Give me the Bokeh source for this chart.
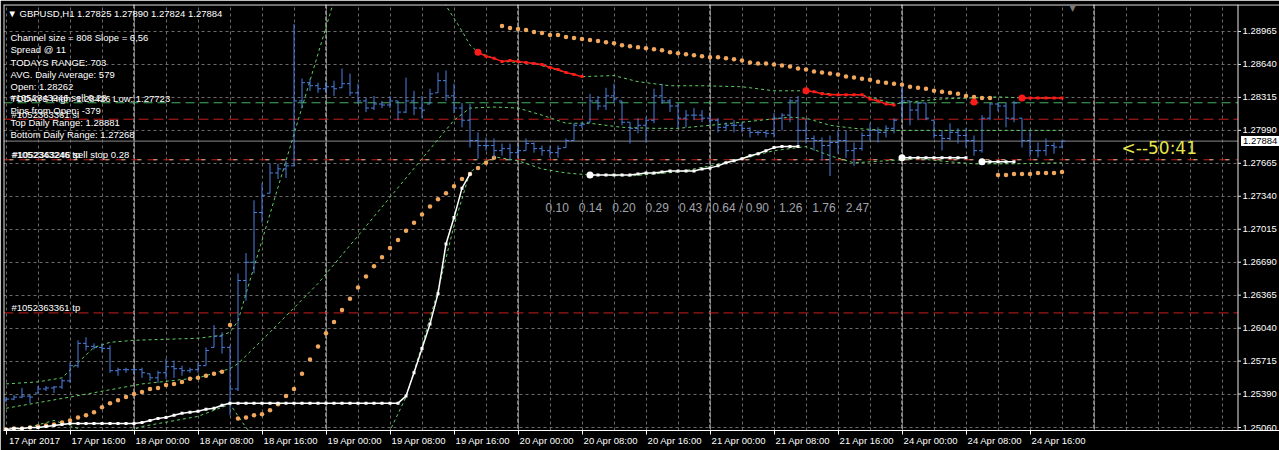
import numpy as np
from bokeh.plotting import figure
from bokeh.models import (Range1d, FixedTicker, CustomJSTickFormatter, Span, Label,
                          BoxAnnotation, ColumnDataSource)
from bokeh.embed import file_html
from bokeh.resources import INLINE

# ---------------- data ----------------
title_text = "\u25bc GBPUSD,H1  1.27825 1.27890 1.27824 1.27884"

time_labels = ["17 Apr 2017", "17 Apr 16:00", "18 Apr 00:00", "18 Apr 08:00", "18 Apr 16:00",
               "19 Apr 00:00", "19 Apr 08:00", "19 Apr 16:00", "20 Apr 00:00", "20 Apr 08:00",
               "20 Apr 16:00", "21 Apr 00:00", "21 Apr 08:00", "21 Apr 16:00", "24 Apr 00:00",
               "24 Apr 08:00", "24 Apr 16:00"]
label_bars = [0, 8, 16, 24, 32, 40, 48, 56, 64, 72, 80, 88, 96, 104, 112, 120, 128]
day_start_bars = [16, 40, 64, 88, 112, 136]

price_ticks = [1.25060, 1.25390, 1.25715, 1.26040, 1.26365, 1.26690, 1.27015,
               1.27340, 1.27665, 1.27990, 1.28315, 1.28640, 1.28965]

bar_open = [1.2533, 1.2534, 1.2536, 1.2537, 1.2540, 1.2544, 1.2545, 1.2546, 1.2552, 1.2567,
            1.2589, 1.2586, 1.2585, 1.2584, 1.2562, 1.2563, 1.2563, 1.2563, 1.2559, 1.2555,
            1.2560, 1.2566, 1.2564, 1.2562, 1.2563, 1.2567, 1.2585, 1.2596, 1.2585, 1.2544,
            1.2651, 1.2669, 1.2718, 1.2737, 1.2757, 1.2761, 1.2764, 1.2828, 1.2846, 1.2843,
            1.2840, 1.2842, 1.2841, 1.2845, 1.2836, 1.2828, 1.2821, 1.2825, 1.2824, 1.2828,
            1.2817, 1.2828, 1.2821, 1.2825, 1.2836, 1.2848, 1.2833, 1.2821, 1.2809, 1.2789,
            1.2784, 1.2784, 1.2779, 1.2781, 1.2777, 1.2779, 1.2786, 1.2781, 1.2779, 1.2777,
            1.2782, 1.2789, 1.2804, 1.2807, 1.2828, 1.2823, 1.2833, 1.2828, 1.2807, 1.2801,
            1.2804, 1.2809, 1.2833, 1.2828, 1.2823, 1.2811, 1.2814, 1.2814, 1.2811, 1.2809,
            1.2802, 1.2804, 1.2804, 1.2801, 1.2797, 1.2797, 1.2796, 1.2811, 1.2814, 1.2828,
            1.2799, 1.2791, 1.2789, 1.2784, 1.2787, 1.2789, 1.2779, 1.2781, 1.2794, 1.2799,
            1.2797, 1.2801, 1.28262, 1.2828, 1.2819, 1.2826, 1.2809, 1.2794, 1.2791, 1.2797,
            1.2794, 1.2789, 1.2779, 1.2811, 1.2825, 1.2823, 1.2811, 1.2811, 1.2789, 1.2779,
            1.2779, 1.2784, 1.27825]
bar_high = [1.2536, 1.2538, 1.2545, 1.2538, 1.2547, 1.2547, 1.2547, 1.2554, 1.2570, 1.2592,
            1.2595, 1.2589, 1.2589, 1.2587, 1.2565, 1.2565, 1.2565, 1.2565, 1.2559, 1.2562,
            1.2574, 1.2572, 1.2567, 1.2565, 1.2570, 1.2585, 1.2607, 1.2600, 1.2587, 1.2658,
            1.2678, 1.2730, 1.2747, 1.2766, 1.2766, 1.2769, 1.2904, 1.2850, 1.2850, 1.2846,
            1.2846, 1.2848, 1.2860, 1.2855, 1.2845, 1.2831, 1.2833, 1.2828, 1.2833, 1.2828,
            1.2851, 1.2838, 1.2833, 1.2840, 1.2856, 1.2858, 1.2845, 1.2826, 1.2825, 1.2797,
            1.2792, 1.2791, 1.2786, 1.2786, 1.2784, 1.2791, 1.2787, 1.2784, 1.2784, 1.2784,
            1.2791, 1.2806, 1.2807, 1.2835, 1.2833, 1.2841, 1.2845, 1.2828, 1.2807, 1.2811,
            1.2812, 1.2840, 1.2845, 1.2830, 1.2826, 1.2819, 1.2821, 1.2819, 1.2814, 1.2811,
            1.2807, 1.2809, 1.2807, 1.2802, 1.2799, 1.2799, 1.2816, 1.2816, 1.2830, 1.2833,
            1.2811, 1.2794, 1.2792, 1.2794, 1.2799, 1.2799, 1.2787, 1.2797, 1.2806, 1.2802,
            1.2804, 1.2811, 1.28426, 1.2828, 1.2826, 1.2826, 1.2809, 1.2799, 1.2806, 1.2801,
            1.2801, 1.2794, 1.2814, 1.2826, 1.2826, 1.2826, 1.2828, 1.2811, 1.2799, 1.2787,
            1.2791, 1.2787, 1.27890]
bar_low = [1.2531, 1.2533, 1.2535, 1.2530, 1.2540, 1.2542, 1.2540, 1.2544, 1.2550, 1.2565,
           1.2582, 1.2583, 1.2580, 1.2560, 1.2557, 1.2560, 1.2559, 1.2555, 1.2552, 1.2550,
           1.2554, 1.2555, 1.2557, 1.2560, 1.2560, 1.2567, 1.2585, 1.2579, 1.2518, 1.2542,
           1.2631, 1.2658, 1.2708, 1.2737, 1.2751, 1.2752, 1.2764, 1.2821, 1.2838, 1.2836,
           1.2836, 1.2833, 1.2841, 1.2833, 1.2825, 1.2817, 1.2819, 1.2821, 1.2821, 1.2809,
           1.2816, 1.2814, 1.2811, 1.2825, 1.2836, 1.2828, 1.2816, 1.2802, 1.2782, 1.2771,
           1.2779, 1.2772, 1.2774, 1.2769, 1.2772, 1.2779, 1.2777, 1.2774, 1.2772, 1.2772,
           1.2782, 1.2789, 1.2801, 1.2807, 1.2819, 1.2819, 1.2826, 1.2804, 1.2786, 1.2796,
           1.2787, 1.2806, 1.2825, 1.2817, 1.2801, 1.2802, 1.2809, 1.2807, 1.2804, 1.2797,
           1.2799, 1.2797, 1.2797, 1.2792, 1.2794, 1.2792, 1.2792, 1.2799, 1.2807, 1.2782,
           1.2786, 1.2779, 1.2769, 1.2754, 1.2776, 1.2772, 1.2764, 1.2779, 1.2789, 1.2787,
           1.2792, 1.2796, 1.2811, 1.2804, 1.2809, 1.2809, 1.2791, 1.2779, 1.2789, 1.2786,
           1.2782, 1.2774, 1.2777, 1.2809, 1.2818, 1.2802, 1.2807, 1.2782, 1.2773, 1.27723,
           1.2774, 1.2776, 1.27824]
bar_close = [1.2534, 1.2536, 1.2537, 1.2536, 1.2544, 1.2545, 1.2546, 1.2552, 1.2567, 1.2589,
             1.2586, 1.2585, 1.2584, 1.2562, 1.2563, 1.2563, 1.2563, 1.2560, 1.2555, 1.2560,
             1.2566, 1.2564, 1.2562, 1.2563, 1.2567, 1.2582, 1.2596, 1.2585, 1.2544, 1.2651,
             1.2669, 1.2718, 1.2735, 1.2757, 1.2761, 1.2764, 1.2828, 1.2846, 1.2843, 1.2840,
             1.2842, 1.2840, 1.2845, 1.2836, 1.2828, 1.2821, 1.2825, 1.2824, 1.2828, 1.2817,
             1.2828, 1.2821, 1.2819, 1.2835, 1.2848, 1.2833, 1.2821, 1.2809, 1.2789, 1.2784,
             1.2784, 1.2779, 1.2781, 1.2777, 1.2779, 1.2786, 1.2781, 1.2779, 1.2777, 1.2781,
             1.2789, 1.2804, 1.2805, 1.2828, 1.2823, 1.2833, 1.2830, 1.2807, 1.2801, 1.2804,
             1.2809, 1.2833, 1.2828, 1.2823, 1.2811, 1.2814, 1.2814, 1.2811, 1.2809, 1.2802,
             1.2804, 1.2804, 1.2801, 1.2797, 1.2797, 1.2796, 1.2811, 1.2814, 1.2828, 1.2799,
             1.2791, 1.2789, 1.2784, 1.2787, 1.2789, 1.2779, 1.2781, 1.2794, 1.2799, 1.2797,
             1.2801, 1.2809, 1.2828, 1.2819, 1.2826, 1.2811, 1.2794, 1.2791, 1.2797, 1.2794,
             1.2789, 1.2779, 1.2811, 1.2825, 1.2823, 1.2811, 1.2826, 1.2789, 1.2779, 1.2779,
             1.2784, 1.27825, 1.27884]

# trailing stop line (white = support, red = resistance), one value per bar
white_stop = [1.2504, 1.2505, 1.2505, 1.2506, 1.2506, 1.2507, 1.2508, 1.2509, 1.2510, 1.2510,
              1.2510, 1.2510, 1.2510, 1.2510, 1.2510, 1.2510, 1.2510, 1.2511, 1.2513, 1.2515,
              1.2516, 1.2518, 1.2520, 1.2521, 1.2522, 1.2524, 1.2525, 1.2528, 1.2530, 1.2530,
              1.2530, 1.2530, 1.2530, 1.2530, 1.2530, 1.2530, 1.2530, 1.2530, 1.2530, 1.2530,
              1.2530, 1.2530, 1.2530, 1.2530, 1.2530, 1.2530, 1.2530, 1.2530, 1.2530, 1.2530,
              1.2537, 1.2560, 1.2584, 1.2608, 1.2638, 1.2687, 1.2713, 1.2742, 1.2756,
              None, None, None, None, None, None, None, None, None, None, None, None, None, None,
              1.2755, 1.2755, 1.2755, 1.2755, 1.2755, 1.2755, 1.2756, 1.2757, 1.2757, 1.2758,
              1.2759, 1.2759, 1.2759, 1.2759, 1.2761, 1.2762, 1.2764, 1.2767, 1.2769, 1.2771,
              1.2774, 1.2776, 1.2779, 1.2782, 1.2783, 1.2783, 1.2783,
              None, None, None, None, None, None, None, None, None, None, None, None,
              1.2772, 1.2772, 1.2772, 1.2772, 1.2772, 1.2772, 1.2772, 1.2772, 1.2772,
              None,
              1.2768, 1.2768, 1.2768, 1.2768, 1.2768,
              None, None, None, None, None, None]
red_stop = ([None] * 59 +
            [1.2876, 1.2872, 1.2870, 1.2867, 1.2868, 1.2867, 1.2866, 1.2865, 1.2864, 1.2861,
             1.2859, 1.2856, 1.2854, 1.2852] +
            [None] * 27 +
            [1.2838, 1.2837, 1.2835, 1.2834, 1.2834, 1.2834, 1.2834, 1.2834, 1.2830, 1.2828,
             1.2825, 1.2824] +
            [None] * 9 + [1.2827] + [None] * 5 +
            [1.2831, 1.2831, 1.2831, 1.2831, 1.2831, 1.2831])
white_start_bars = [73, 112, 122]
red_start_bars = [59, 100, 121, 127]

# parabolic SAR dots
sar = [1.2504, 1.2505, 1.2505, 1.2506, 1.2507, 1.2508, 1.2509, 1.2511, 1.2513, 1.2516,
       1.2518, 1.2521, 1.2526, 1.2530, 1.2533, 1.2536, 1.2539, 1.2541, 1.2544, 1.2545,
       1.2548, 1.2549, 1.2551, 1.2554, 1.2555, 1.2557, 1.2559, 1.2561, 1.2607, 1.2515,
       1.2516, 1.2518, 1.2519, 1.2523, 1.2529, 1.2537, 1.2544, 1.2559, 1.2573, 1.2586,
       1.2599, 1.2610, 1.2622, 1.2633, 1.2644, 1.2655, 1.2665, 1.2674, 1.2683, 1.2691,
       1.2700, 1.2708, 1.2716, 1.2724, 1.2731, 1.2737, 1.2744, 1.2751, 1.2756, 1.2762,
       1.2767, 1.2772, 1.2902, 1.2900, 1.2899, 1.2898, 1.2896, 1.2895, 1.2893, 1.2893,
       1.2891, 1.2890, 1.2889, 1.2888, 1.2887, 1.2886, 1.2885, 1.2883, 1.2882, 1.2881,
       1.2880, 1.2879, 1.2878, 1.2876, 1.2875, 1.2874, 1.2873, 1.2872, 1.2871, 1.2871,
       1.2870, 1.2869, 1.2868, 1.2866, 1.2865, 1.2865, 1.2864, 1.2863, 1.2862, 1.2860,
       1.2859, 1.2857, 1.2856, 1.2855, 1.2854, 1.2852, 1.2851, 1.2850, 1.2849, 1.2847,
       1.2846, 1.2845, 1.2844, 1.2842, 1.2841, 1.2840, 1.2838, 1.2837, 1.2836, 1.2835,
       1.2833, 1.2832, 1.2831, 1.2831, 1.2755, 1.2755, 1.2756, 1.2756, 1.2756, 1.2757,
       1.2757, 1.2757, 1.2758]

# bands (read at sampled bars)
band_up_bars = [0, 4, 7, 9, 11, 13, 16, 20, 24, 27, 28, 29, 30, 35, 41, 48, 55, 57, 58, 59,
                62, 66, 70, 72, 76, 79, 83, 87, 92, 96, 100, 104, 107, 111, 113, 117, 121,
                124, 127, 132]
band_up = [1.2549, 1.2551, 1.2555, 1.2570, 1.2585, 1.2590, 1.2592, 1.2593, 1.2594, 1.2597,
           1.2600, 1.2611, 1.2638, 1.2769, 1.2927, 1.3080, 1.2922, 1.2897, 1.2883, 1.2876,
           1.2867, 1.2865, 1.2856, 1.2852, 1.2853, 1.2847, 1.2843, 1.2843, 1.2842, 1.2838,
           1.2838, 1.2834, 1.2834, 1.2825, 1.2827, 1.2830, 1.2831, 1.2832, 1.2831, 1.2831]
band_mid_bars = [0, 8, 17, 24, 28, 29, 33, 39, 44, 50, 54, 56, 58, 61, 64, 67, 70, 73, 77,
                 81, 84, 88, 92, 98, 100, 103, 106, 110, 117, 124, 132]
band_mid = [1.2525, 1.2536, 1.2549, 1.2555, 1.2564, 1.2569, 1.2600, 1.2648, 1.2695, 1.2752,
            1.2790, 1.2809, 1.2821, 1.2822, 1.2821, 1.2814, 1.2806, 1.2806, 1.2802, 1.2801,
            1.2801, 1.2804, 1.2807, 1.2812, 1.2811, 1.2804, 1.2801, 1.2799, 1.2799, 1.2799,
            1.2799]
band_low_bars = [0, 6, 9, 12, 17, 24, 28, 30, 32, 40, 46, 48, 50, 52, 54, 56, 58, 61, 64, 67,
                 70, 73, 78, 84, 88, 92, 96, 100, 103, 106, 110, 114, 118, 121, 126, 132]
band_low = [1.2500, 1.2513, 1.2505, 1.2493, 1.2507, 1.2517, 1.2529, 1.2506, 1.2488, 1.2463,
            1.2483, 1.2503, 1.2536, 1.2587, 1.2641, 1.2705, 1.2758, 1.2773, 1.2769, 1.2761,
            1.2757, 1.2755, 1.2754, 1.2758, 1.2764, 1.2771, 1.2779, 1.2783, 1.2774, 1.2767,
            1.2769, 1.2771, 1.2768, 1.2766, 1.2766, 1.2767]

# trade levels
position_level = 1.28262
sl_level = 1.2810
sellstop_level = 1.2770
tp_level = 1.2619
bid_price = 1.27884

info_lines = ["Channel size = 808 Slope = 6,56", "Spread @ 11", "TODAYS RANGE: 703",
              "AVG. Daily Average: 579", "Open: 1.28262", "TODAYS High: 1.28426 Low: 1.27723",
              "Pips from Open: -379", "Top Daily Range: 1.28881", "Bottom Daily Range: 1.27268"]
lot_steps = ["0.10", "0.14", "0.20", "0.29", "0.43 / 0.64 / 0.90", "1.26", "1.76", "2.47"]
countdown = "<--50:41"

# ---------------- layout ----------------
W, H = 1279, 450
LEFT, TOP, BOTTOM_H = 3, 4, 20
CHART_RIGHT = 1237          # page x of the chart's right border (price scale to its right)
FRAME_W = W - LEFT
FRAME_H = H - TOP - BOTTOM_H
PX_PER_BAR = 8.0
X_START = -0.3125
X_END = X_START + FRAME_W / PX_PER_BAR
Y_TOP = 1.29231
Y_BOT = Y_TOP - FRAME_H * 0.0000986


def ax(px):
    return X_START + (px - LEFT) / PX_PER_BAR


def ay(py):
    return Y_TOP - (py - TOP) * (Y_TOP - Y_BOT) / FRAME_H


FONT = "Liberation Sans"
BAR = "#4a80e0"
GREEN = "#5fcf5f"
SAR_C = "#f0a860"

p = figure(width=W, height=H, x_range=Range1d(X_START, X_END), y_range=Range1d(Y_BOT, Y_TOP),
           output_backend="svg", toolbar_location=None, y_axis_location=None,
           min_border_left=LEFT, min_border_top=TOP, min_border_right=0,
           min_border_bottom=BOTTOM_H)
p.background_fill_color = "black"
p.border_fill_color = "black"
p.outline_line_color = None

# time axis
LABEL_SHIFT = 3.6
p.xaxis.ticker = FixedTicker(ticks=[b + LABEL_SHIFT for b in label_bars], minor_ticks=label_bars)
p.xaxis.formatter = CustomJSTickFormatter(
    args=dict(labels=time_labels, shift=LABEL_SHIFT),
    code="const k = Math.round((tick - shift) / 8); return (k >= 0 && k < labels.length) ? labels[k] : '';")
p.xaxis.major_tick_line_color = None
p.xaxis.major_tick_out = 0
p.xaxis.major_tick_in = 0
p.xaxis.minor_tick_line_color = "white"
p.xaxis.minor_tick_out = 4
p.xaxis.minor_tick_in = 0
p.xaxis.axis_line_color = "white"
p.xaxis.major_label_text_color = "white"
p.xaxis.major_label_text_font = FONT
p.xaxis.major_label_text_font_size = "9.5px"
p.xaxis.major_label_standoff = 0

p.xgrid.ticker = FixedTicker(ticks=list(range(0, 154, 4)))
p.ygrid.ticker = FixedTicker(ticks=price_ticks)
p.grid.grid_line_color = "#6a6a6a"
p.grid.grid_line_dash = "3 3"
p.grid.grid_line_width = 1

# day separators and horizontal levels
for b in day_start_bars:
    p.add_layout(Span(location=b, dimension="height", line_color="white", line_dash="4 2",
                      line_width=1, level="underlay"))
p.add_layout(Span(location=bid_price, dimension="width", line_color="#8a8a8a", line_width=1,
                  level="underlay"))
p.add_layout(Span(location=position_level, dimension="width", line_color="#46b060",
                  line_dash="9 5", line_width=1, level="underlay"))
for lv in (sl_level, tp_level):
    p.add_layout(Span(location=lv, dimension="width", line_color="#c81e1e", line_dash="10 5",
                      line_width=1, level="underlay"))
p.add_layout(Span(location=sellstop_level, dimension="width", line_color="#c81e1e",
                  line_dash="8 8", line_width=1, level="underlay"))
p.add_layout(Span(location=sellstop_level, dimension="width", line_color="#e0c890",
                  line_dash="4 12", line_dash_offset=10, line_width=1, level="underlay"))

# price-scale strip to the right of the chart
p.add_layout(BoxAnnotation(left=ax(CHART_RIGHT + 0.5), right=X_END, bottom=Y_BOT, top=Y_TOP,
                           fill_color="black", fill_alpha=1.0, line_color=None,
                           level="underlay"))
# chart border (left, top, right)
p.add_layout(Span(location=ax(LEFT + 0.5), dimension="height", line_color="#e8e8e8",
                  line_width=1, level="underlay"))
p.add_layout(Span(location=ay(TOP + 0.5), dimension="width", line_color="#e8e8e8",
                  line_width=1, level="underlay"))
p.add_layout(Span(location=ax(CHART_RIGHT + 0.5), dimension="height", line_color="#e8e8e8",
                  line_width=1, level="underlay"))

# price scale ticks and labels
tick_src = ColumnDataSource(dict(y=price_ticks))
p.segment(x0=ax(CHART_RIGHT + 0.5), x1=ax(CHART_RIGHT + 3.5), y0="y", y1="y", source=tick_src,
          line_color="#e8e8e8", line_width=1)
for pt in price_ticks:
    p.add_layout(Label(x=ax(CHART_RIGHT + 5), y=pt, text="%.5f" % pt, text_color="white",
                       text_font_size="9.5px", text_font=FONT, text_align="left",
                       text_baseline="middle"))

# bands
p.line(band_up_bars, band_up, line_color=GREEN, line_dash="3 3", line_width=1)
p.line(band_mid_bars, band_mid, line_color=GREEN, line_dash="3 3", line_width=1)
p.line(band_low_bars, band_low, line_color=GREEN, line_dash="3 3", line_width=1)

# SAR
bars = np.arange(len(bar_close))
p.scatter(bars, sar, marker="circle", size=4.5, fill_color=SAR_C, line_color=None)

# OHLC bars
src = ColumnDataSource(dict(x=bars, xl=bars - 0.375, xr=bars + 0.375,
                            o=bar_open, h=bar_high, l=bar_low, c=bar_close))
p.segment(x0="x", y0="l", x1="x", y1="h", source=src, line_color=BAR, line_width=1)
p.segment(x0="xl", y0="o", x1="x", y1="o", source=src, line_color=BAR, line_width=1)
p.segment(x0="x", y0="c", x1="xr", y1="c", source=src, line_color=BAR, line_width=1)

# trailing stop lines
wy = np.array(white_stop, dtype=float)
ry = np.array(red_stop, dtype=float)
p.line(bars, wy, line_color="white", line_width=1.5)
p.scatter(bars, wy, marker="square", size=3, fill_color="white", line_color=None)
p.scatter(white_start_bars, [wy[b] for b in white_start_bars], marker="circle", size=7,
          fill_color="white", line_color=None)
p.line(bars, ry, line_color="#ff1a1a", line_width=1.5)
p.scatter(bars, ry, marker="square", size=3, fill_color="#ff1a1a", line_color=None)
p.scatter(red_start_bars, [ry[b] for b in red_start_bars], marker="circle", size=7,
          fill_color="#ff1a1a", line_color=None)


# ---------------- texts ----------------
def add_text(txt, px, py, color="white", size="9.5px", font=FONT, **kw):
    p.add_layout(Label(x=ax(px), y=ay(py), text=txt, text_color=color, text_font_size=size,
                       text_font=font, text_align="left", text_baseline="middle", **kw))


add_text(title_text, 7, 12.5)
for k, line in enumerate(info_lines):
    add_text(line, 10, 37.3 + 12.1 * k)
add_text("#1052343246 sell 0.28", 10, 96.5)
add_text("#1052363361 sl", 11, 113.5)
add_text("#1052363246 sell stop 0.28", 12, 153.5)
add_text("#1052343246 tp", 11, 153.5)
add_text("#1052363361 tp", 11, 306.5)
add_text("\u00a0\u00a0\u00a0".join(lot_steps), 545, 207, color="#a0a4ac", size="12px")
add_text(countdown, 1121, 147.5, color="#e6e64a", size="17px", font="DejaVu Sans")
add_text("\u25bc", 1069, 8, color="#7a7a7a", size="8px", font="DejaVu Sans")

bid_kw = dict(text_color="black", text_font_size="9.5px", text_font=FONT, text_align="left",
              text_baseline="middle", background_fill_color="white")
if "padding" in Label.properties():
    bid_kw["padding"] = 2
    p.add_layout(Label(x=ax(CHART_RIGHT + 3.5), y=bid_price, text="%.5f" % bid_price, **bid_kw))
else:
    p.add_layout(Label(x=ax(CHART_RIGHT + 1), y=bid_price, text="\u00a0%.5f" % bid_price,
                       **bid_kw))

open("out.html", "w").write(file_html(p, INLINE))
